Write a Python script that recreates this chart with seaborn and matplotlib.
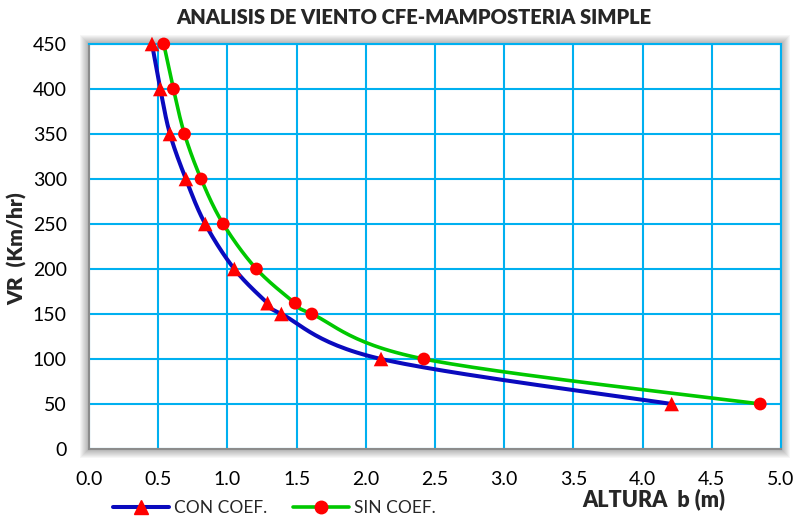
import numpy as np
import pandas as pd
import matplotlib
matplotlib.use("Agg")
import matplotlib.pyplot as plt
from matplotlib.patches import Rectangle
from matplotlib.lines import Line2D
import seaborn as sns

# Wind speed (km/h) against wall height b (m)
vr_con = [450, 400, 350, 300, 250, 200, 162, 150, 100, 50]
b_con = [0.455, 0.515, 0.585, 0.70, 0.84, 1.05, 1.29, 1.39, 2.11, 4.21]

vr_sin = [450, 400, 350, 300, 250, 200, 162, 150, 100, 50]
b_sin = [0.54, 0.61, 0.69, 0.81, 0.97, 1.21, 1.49, 1.61, 2.42, 4.85]

x_ticks = [0.0, 0.5, 1.0, 1.5, 2.0, 2.5, 3.0, 3.5, 4.0, 4.5, 5.0]
y_ticks = [0, 50, 100, 150, 200, 250, 300, 350, 400, 450]

BLUE = "#0A0ABE"
GREEN = "#00C800"
RED = "#FF0000"
GRID = "#00B0F0"

sns.set_theme(style="white")
plt.rcParams["font.family"] = ["Lato", "DejaVu Sans"]

df = pd.concat([
    pd.DataFrame({"b": b_con, "vr": vr_con, "serie": "CON COEF."}),
    pd.DataFrame({"b": b_sin, "vr": vr_sin, "serie": "SIN COEF."}),
])

fig = plt.figure(figsize=(7.97, 5.19), dpi=100)
L, R, B, T = 89 / 797, 781 / 797, 1 - 449 / 519, 1 - 44 / 519
ax = fig.add_axes([L, B, R - L, T - B])

# soft drop shadow around the plot area
for i in range(9, 0, -1):
    pad_x = i / 797
    pad_y = i / 519
    fig.patches.append(Rectangle((L - pad_x, B - pad_y), (R - L) + 2 * pad_x, (T - B) + 2 * pad_y,
                                 transform=fig.transFigure, facecolor="#000000",
                                 alpha=0.035, edgecolor="none", zorder=0))

ax.set_facecolor("white")
ax.set_zorder(1)
ax.set_xlim(0, 5)
ax.set_ylim(0, 450)
ax.set_xticks(x_ticks)
ax.set_yticks(y_ticks)
ax.set_xticklabels([f"{v:.1f}" for v in x_ticks])
ax.set_yticklabels([str(v) for v in y_ticks])
ax.grid(True, color=GRID, linewidth=1.5)
ax.set_axisbelow(True)
for side in ("top", "right"):
    ax.spines[side].set_color(GRID)
    ax.spines[side].set_linewidth(1.5)
for side in ("left", "bottom"):
    ax.spines[side].set_color("#8C8C8C")
    ax.spines[side].set_linewidth(1.5)
ax.tick_params(axis="both", which="both", direction="out", length=6, width=1.2,
               color="#8C8C8C", labelsize=14, labelcolor="black")
ax.tick_params(axis="y", pad=10)
ax.tick_params(axis="x", pad=10)


def smooth(xs, ys, n=30):
    """Catmull-Rom path through the points, computed in display space."""
    pts = ax.transData.transform(np.column_stack([xs, ys]))
    p = np.vstack([pts[0], pts, pts[-1]])
    out = []
    t = np.linspace(0, 1, n)[:, None]
    for i in range(1, len(p) - 2):
        p0, p1, p2, p3 = p[i - 1], p[i], p[i + 1], p[i + 2]
        seg = 0.5 * ((2 * p1) + (-p0 + p2) * t + (2 * p0 - 5 * p1 + 4 * p2 - p3) * t ** 2
                     + (-p0 + 3 * p1 - 3 * p2 + p3) * t ** 3)
        out.append(seg)
    path = np.vstack(out)
    return ax.transData.inverted().transform(path).T


xs, ys = smooth(b_sin, vr_sin)
ax.plot(xs, ys, color=GREEN, linewidth=2.6, zorder=3, solid_capstyle="round")
xs, ys = smooth(b_con, vr_con)
ax.plot(xs, ys, color=BLUE, linewidth=2.9, zorder=3, solid_capstyle="round")

sns.scatterplot(data=df, x="b", y="vr", hue="serie", style="serie",
                markers={"CON COEF.": "^", "SIN COEF.": "o"},
                palette={"CON COEF.": RED, "SIN COEF.": RED},
                size="serie", sizes={"CON COEF.": 110, "SIN COEF.": 85},
                edgecolor="none", linewidth=0, legend=False, ax=ax, zorder=4, clip_on=False)

ax.set_xlabel("")
ax.set_ylabel("")

fig.text(414 / 797, 1 - 18 / 519, "ANALISIS DE VIENTO CFE-MAMPOSTERIA SIMPLE",
         ha="center", va="center", fontsize=14.5, fontweight="heavy")
fig.text(17 / 797, 1 - 249 / 519, "VR  (Km/hr)", rotation=90, ha="center", va="center",
         fontsize=15, fontweight="heavy")
fig.text(654 / 797, 1 - 499 / 519, "ALTURA  b (m)", ha="center", va="center",
         fontsize=15.5, fontweight="heavy")

handles = [
    Line2D([], [], color=BLUE, linewidth=2.9, marker="^", markersize=10,
           markerfacecolor=RED, markeredgecolor=RED),
    Line2D([], [], color=GREEN, linewidth=2.6, marker="o", markersize=9,
           markerfacecolor=RED, markeredgecolor=RED),
]
fig.legend(handles, ["CON COEF.", "SIN COEF."], loc="center left",
           bbox_to_anchor=(113 / 797, 1 - 508 / 519), ncol=2, frameon=False,
           fontsize=12.5, handlelength=3.2, handletextpad=0.3, columnspacing=1.5,
           borderpad=0, borderaxespad=0)

fig.savefig("out.png", dpi=100)
